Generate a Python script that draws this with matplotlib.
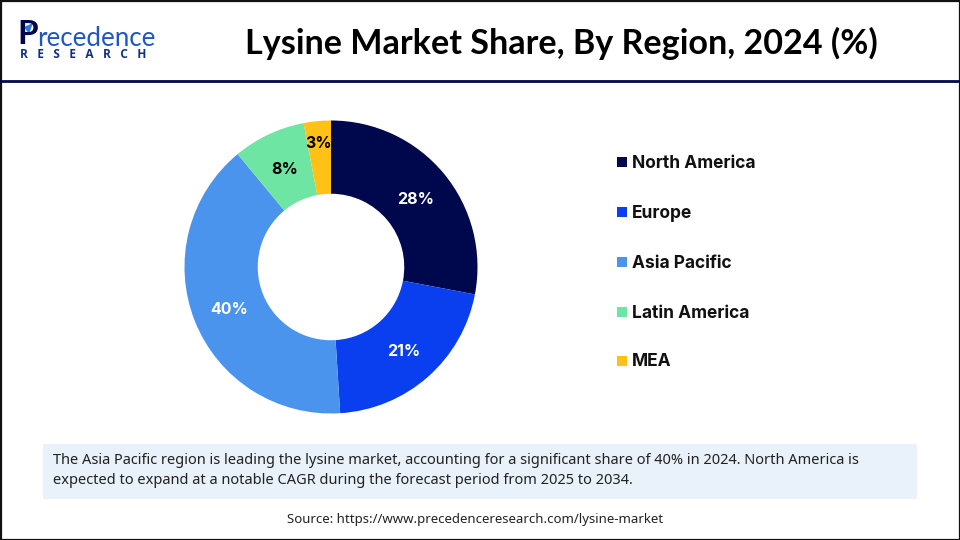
import matplotlib
matplotlib.use("Agg")
import matplotlib.pyplot as plt
from matplotlib.patches import Rectangle, Polygon

regions = ["North America", "Europe", "Asia Pacific", "Latin America", "MEA"]
shares = [28, 21, 40, 8, 3]
colors = ["#00084D", "#0A3FF0", "#4A94EE", "#6EE5A2", "#FFC115"]
label_colors = ["white", "white", "white", "black", "black"]
title = "Lysine Market Share, By Region, 2024 (%)"
note = ["The Asia Pacific region is leading the lysine market, accounting for a significant share of 40% in 2024. North America is",
        "expected to expand at a notable CAGR during the forecast period from 2025 to 2034."]
source = "Source: https://www.precedenceresearch.com/lysine-market"

fig = plt.figure(figsize=(9.6, 5.4), dpi=100)
bg = fig.add_axes([0, 0, 1, 1])
bg.set_xlim(0, 960)
bg.set_ylim(540, 0)
bg.axis("off")

# frame and header rule
bg.add_patch(Rectangle((0.5, 0.5), 959, 539, fill=False, ec="#111111", lw=1.6))
bg.plot([0, 960], [81, 81], color="#00084D", lw=2)

# logo
bg.text(17, 35, "P", family="Lato", weight="bold", fontsize=24, color="#00084D", va="center", ha="left")
bg.text(37, 38, "recedence", family="Lato", fontsize=18.6, color="#1F55C8", va="center", ha="left")
bg.add_patch(Polygon([[24, 27], [33, 23], [29, 34]], color="#2E7BE0", lw=0))
bg.text(20, 54, "R   E   S   E   A   R   C   H", family="Open Sans", weight="bold", fontsize=8.6,
        color="#12307F", va="center", ha="left")

# title
bg.text(561, 43, title, family="Lato", weight="bold", fontsize=24.6, color="black", ha="center", va="center")

# donut
cx, cy, r = 331, 267, 146.5
ax = fig.add_axes([(cx - r) / 960, 1 - (cy + r) / 540, 2 * r / 960, 2 * r / 540])
wedges, _ = ax.pie(shares, colors=colors, startangle=90, counterclock=False, radius=1,
                   wedgeprops=dict(width=0.5, linewidth=0))
ax.set_xlim(-1, 1)
ax.set_ylim(-1, 1)
ax.set_aspect("equal")

label_pos = [(416, 199), (404, 352), (229, 310), (285, 170), (319, 143)]
for s, c, (x, y) in zip(shares, label_colors, label_pos):
    bg.text(x, y, f"{s}%", family="Inter", weight="bold", fontsize=11.5, color=c, ha="center", va="center", zorder=5)
bg.set_zorder(2)
ax.set_zorder(1)
bg.patch.set_alpha(0)

# legend
legend_y = [162, 212, 262, 312, 361]
for name, c, y in zip(regions, colors, legend_y):
    bg.add_patch(Rectangle((617, y - 5), 10, 10, color=c, lw=0))
    bg.text(632, y + 1, name, family="Inter", weight="bold", fontsize=12.5, color="#111111", ha="left", va="center")

# note box
bg.add_patch(Rectangle((43, 444), 874, 55, color="#E9F1FA", lw=0))
bg.text(53, 460, note[0], family="Noto Sans", fontsize=10.5, color="#222222", ha="left", va="center")
bg.text(53, 480, note[1], family="Noto Sans", fontsize=10.5, color="#222222", ha="left", va="center")

# source
bg.text(475, 520, source, family="Noto Sans", fontsize=9.5, color="#222222", ha="center", va="center")

fig.savefig("out.png", dpi=100)
